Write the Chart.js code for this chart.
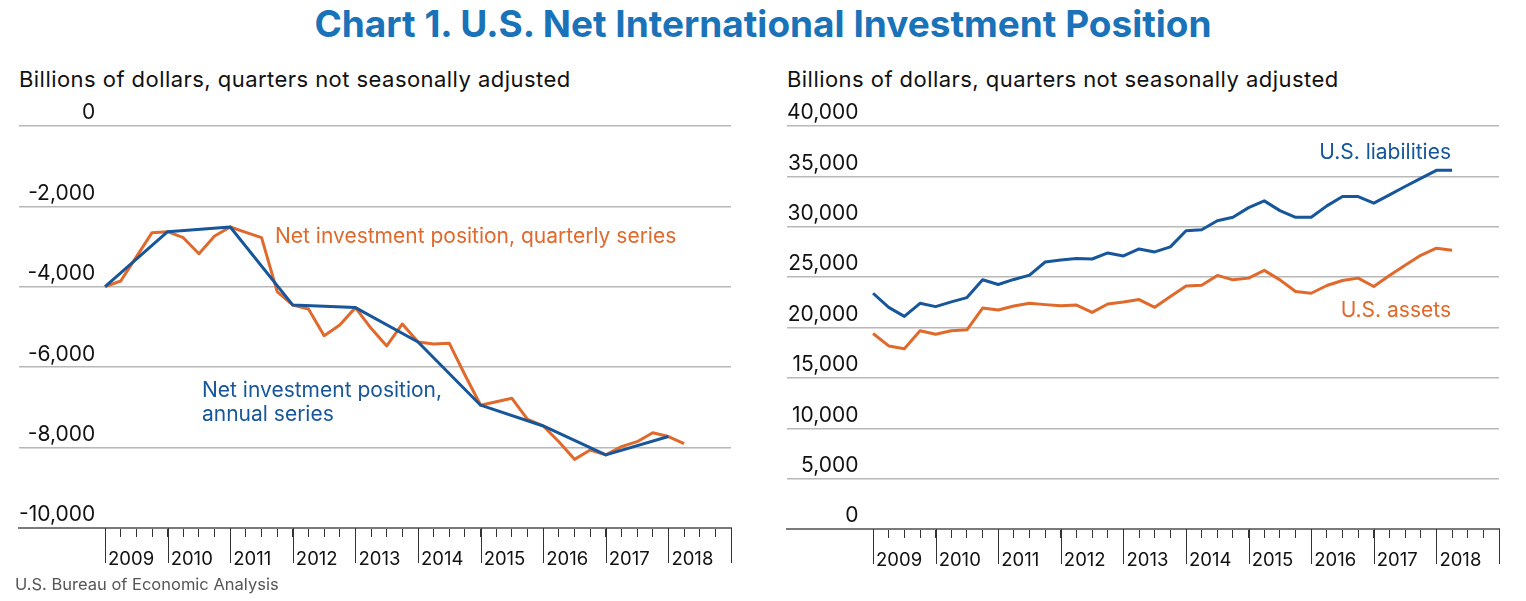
<!DOCTYPE html>
<html><head><meta charset="utf-8">
<script src="https://cdn.jsdelivr.net/npm/chart.js@4/dist/chart.umd.min.js"></script>
<style>
html,body{margin:0;padding:0;background:#fff;}
body{width:1526px;height:601px;position:relative;overflow:hidden;font-family:Inter,'Open Sans',sans-serif;color:#111;}
.t{position:absolute;white-space:nowrap;line-height:1;}
#title{left:0;width:1526px;text-align:center;top:5px;font-size:37px;font-weight:700;color:#1a72b9;}
.sub{font-size:22px;top:68px;color:#111;letter-spacing:0.45px;}
.ann{font-size:21px;}
.or{color:#e0692c;}
.bl{color:#17569b;}
#src{left:15px;top:576px;font-size:16.5px;color:#555;}
canvas{position:absolute;top:0;}
</style></head>
<body>
<div id="title" class="t">Chart 1. U.S. Net International Investment Position</div>
<div class="t sub" style="left:19px">Billions of dollars, quarters not seasonally adjusted</div>
<div class="t sub" style="left:787px">Billions of dollars, quarters not seasonally adjusted</div>
<canvas id="c1" width="760" height="601" style="left:0"></canvas>
<canvas id="c2" width="766" height="601" style="left:760px"></canvas>
<div class="t ann or" style="left:275px;top:225px">Net investment position, quarterly series</div>
<div class="t ann bl" style="left:202px;top:378px;line-height:24px">Net investment position,<br>annual series</div>
<div class="t ann bl" style="right:75px;top:141px">U.S. liabilities</div>
<div class="t ann or" style="right:75px;top:299px">U.S. assets</div>
<div id="src" class="t">U.S. Bureau of Economic Analysis</div>
<script>
// ---- data ----
const quarters = ['2008Q4',
 '2009Q1','2009Q2','2009Q3','2009Q4',
 '2010Q1','2010Q2','2010Q3','2010Q4',
 '2011Q1','2011Q2','2011Q3','2011Q4',
 '2012Q1','2012Q2','2012Q3','2012Q4',
 '2013Q1','2013Q2','2013Q3','2013Q4',
 '2014Q1','2014Q2','2014Q3','2014Q4',
 '2015Q1','2015Q2','2015Q3','2015Q4',
 '2016Q1','2016Q2','2016Q3','2016Q4',
 '2017Q1','2017Q2','2017Q3','2017Q4',
 '2018Q1'];
const niipQuarterly = [-3995,
 -3856,-3254,-2654,-2628,
 -2778,-3176,-2736,-2512,
 -2645,-2778,-4121,-4455,
 -4552,-5216,-4950,-4518,
 -5033,-5470,-4925,-5373,
 -5423,-5406,-6194,-6945,
 -6858,-6774,-7297,-7462,
 -7853,-8292,-8060,-8182,
 -7977,-7853,-7629,-7725,
 -7903];
const annualYears = ['2008','2009','2010','2011','2012','2013','2014','2015','2016','2017'];
const niipAnnual = [-3995,-2628,-2512,-4455,-4518,-5373,-6945,-7462,-8182,-7725];
const usLiabilities = [23400,
 22000,21100,22400,22070,
 22540,22970,24740,24270,
 24770,25200,26500,26700,
 26840,26800,27400,27100,
 27800,27500,28000,29600,
 29700,30600,30940,31900,
 32570,31600,30940,30940,
 32070,33000,33000,32340,
 33170,34000,34800,35600,
 35600];
const usAssets = [19400,
 18170,17900,19670,19330,
 19670,19770,21930,21730,
 22130,22400,22270,22170,
 22230,21500,22330,22530,
 22770,22000,23070,24130,
 24200,25170,24730,24900,
 25670,24730,23570,23400,
 24170,24670,24900,24070,
 25170,26170,27170,27870,
 27670];
const yearLabels = ['2009','2010','2011','2012','2013','2014','2015','2016','2017','2018'];

// ---- helpers ----
const ORANGE = '#e0692c', BLUE = '#17569b';
const FONT = "Inter, 'Open Sans', sans-serif";
function qIndex(q){ const y=+q.slice(0,4), n=+q.slice(5); return (y-2008)*4 + n - 4; }
function yIndex(y){ return (+y-2008)*4; }
const qPts = vals => vals.map((v,i)=>({x:qIndex(quarters[i]), y:v}));

const yearLines = {
  id:'yearLines',
  afterDraw(chart){
    const xs = chart.scales.x, ctx = chart.ctx;
    ctx.save(); ctx.strokeStyle='#333'; ctx.lineWidth=1;
    xs.ticks.forEach(t=>{
      if (t.value % 4 === 0){
        const px = Math.round(xs.getPixelForValue(t.value))+0.5;
        ctx.beginPath(); ctx.moveTo(px, xs.top); ctx.lineTo(px, xs.top+35); ctx.stroke();
      }
    });
    ctx.restore();
  }
};

function xScale(){
  return {
    type:'linear', min:-5.5, max:40,
    afterBuildTicks(s){ const t=[]; for(let v=0; v<=40; v++) t.push({value:v}); s.ticks=t; },
    afterFit(s){ s.height = 40; },
    grid:{drawOnChartArea:false, drawTicks:true, tickLength:9, tickColor:'#333', tickWidth:1},
    border:{display:true, color:'#7a7a7a', width:2},
    ticks:{
      autoSkip:false, maxRotation:0, minRotation:0, align:'start', labelOffset:3, padding:11,
      color:'#111', font:{family:FONT, size:18.5},
      callback:(v)=> (v%4===0 && v<40) ? yearLabels[v/4] : ''
    }
  };
}
function yScale(min,max,step){
  return {
    min, max,
    grid:{drawTicks:false, lineWidth:1.5, color:(c)=> c.tick && c.tick.value===min ? 'rgba(0,0,0,0)' : '#b8b8b8'},
    border:{display:false},
    ticks:{
      stepSize:step, mirror:true, crossAlign:'far', padding:0, labelOffset:-13,
      color:'#111', font:{family:FONT, size:21},
      callback:(v)=> Number(v).toLocaleString('en-US')
    }
  };
}
const common = {
  responsive:false, animation:false, devicePixelRatio:1,
  plugins:{legend:{display:false}, tooltip:{enabled:false}},
  elements:{point:{radius:0}, line:{tension:0, borderWidth:3, borderJoinStyle:'round', borderCapStyle:'butt'}}
};

new Chart(document.getElementById('c1'), {
  type:'line',
  data:{datasets:[
    {label:'Net investment position, annual series', data:niipAnnual.map((v,i)=>({x:yIndex(annualYears[i]), y:v})), borderColor:BLUE},
    {label:'Net investment position, quarterly series', data:qPts(niipQuarterly), borderColor:ORANGE}
  ]},
  options:Object.assign({}, common, {
    layout:{padding:{left:19, right:29, top:126, bottom:33}},
    scales:{x:xScale(), y:yScale(-10000,0,2000)}
  }),
  plugins:[yearLines]
});

new Chart(document.getElementById('c2'), {
  type:'line',
  data:{datasets:[
    {label:'U.S. liabilities', data:qPts(usLiabilities), borderColor:BLUE},
    {label:'U.S. assets', data:qPts(usAssets), borderColor:ORANGE}
  ]},
  options:Object.assign({}, common, {
    layout:{padding:{left:27, right:27, top:126, bottom:32}},
    scales:{x:xScale(), y:yScale(0,40000,5000)}
  }),
  plugins:[yearLines]
});
</script>
</body></html>
